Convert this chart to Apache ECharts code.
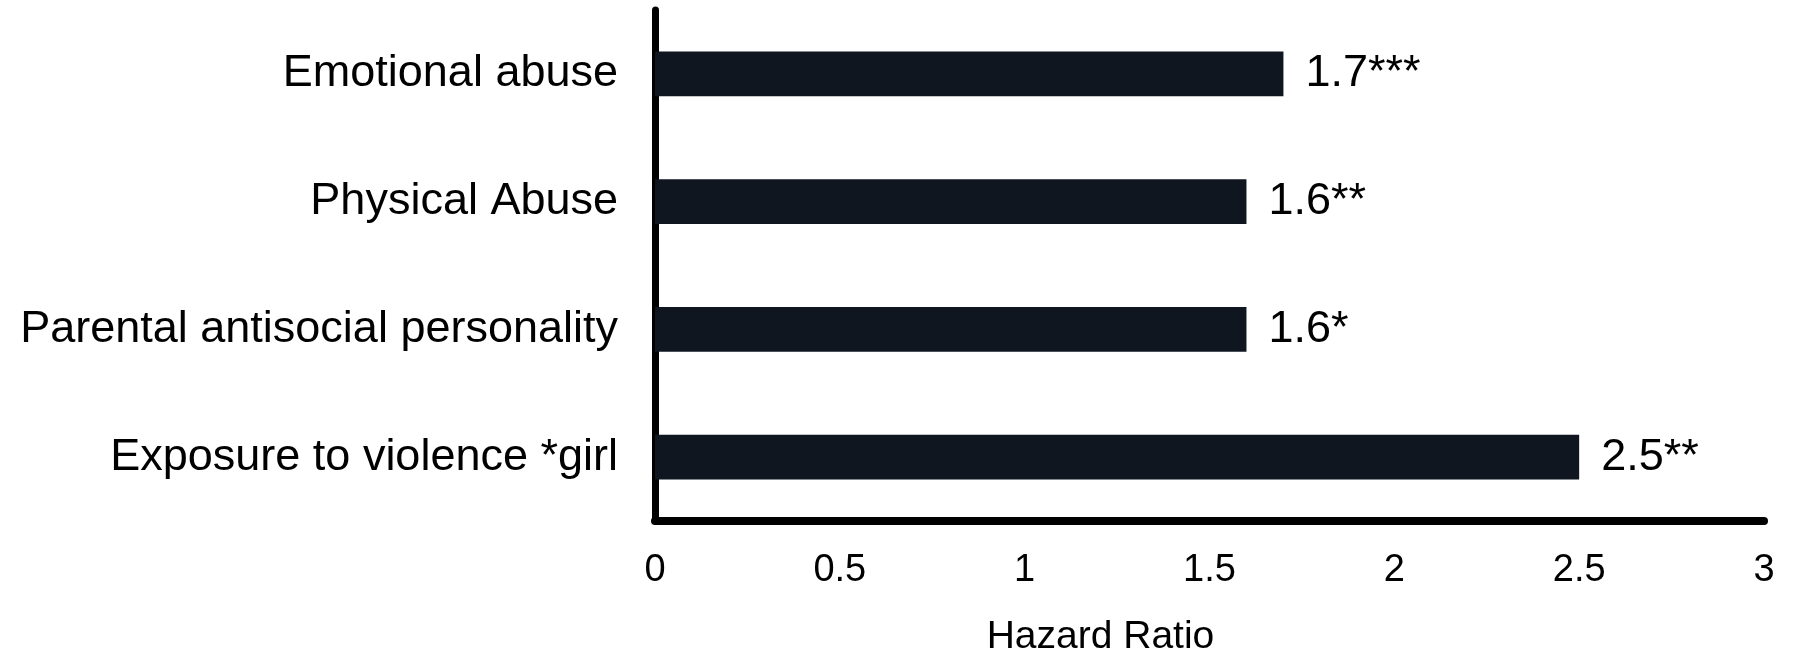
<!DOCTYPE html>
<html>
<head>
<meta charset="utf-8">
<script src="https://cdn.jsdelivr.net/npm/echarts@6/dist/echarts.min.js"></script>
<style>
html,body{margin:0;padding:0;background:#fff;}
#chart{width:1793px;height:653px;}
</style>
</head>
<body>
<div id="chart"></div>
<script>
const categories = ['Exposure to violence *girl', 'Parental antisocial personality', 'Physical Abuse', 'Emotional abuse'];
const hazardRatios = [2.5, 1.6, 1.6, 1.7];
const significance = ['**', '*', '**', '***'];
const xTicks = [0, 0.5, 1, 1.5, 2, 2.5, 3];

const chart = echarts.init(document.getElementById('chart'), null, {renderer: 'canvas'});
const font = 'Arial, "Liberation Sans", Helvetica, sans-serif';
chart.setOption({
  animation: false,
  backgroundColor: '#ffffff',
  grid: {left: 655, right: 29, top: 10, bottom: 132, containLabel: false, outerBoundsMode: 'none'},
  xAxis: {
    type: 'value',
    min: xTicks[0],
    max: xTicks[xTicks.length - 1],
    interval: 0.5,
    axisLine: {show: true, onZero: false, lineStyle: {color: '#000', width: 8}},
    axisTick: {show: false},
    splitLine: {show: false},
    axisLabel: {
      color: '#000', fontSize: 38, fontFamily: font, margin: 31,
      formatter: v => String(v)
    },
    name: 'Hazard Ratio',
    nameLocation: 'middle',
    nameGap: 97,
    nameTextStyle: {color: '#000', fontSize: 39, fontFamily: font, padding: [0, 218, 0, 0]}
  },
  yAxis: {
    type: 'category',
    data: categories,
    axisLine: {show: true, lineStyle: {color: '#000', width: 7}},
    axisTick: {show: false},
    splitLine: {show: false},
    axisLabel: {color: '#000', fontSize: 45, fontFamily: font, margin: 37}
  },
  series: [{
    type: 'bar',
    data: hazardRatios,
    barWidth: '35%',
    itemStyle: {color: '#0f1620'},
    label: {
      show: true,
      position: 'right',
      distance: 22,
      color: '#000',
      fontSize: 45,
      fontFamily: font,
      formatter: p => p.value + significance[p.dataIndex]
    }
  }]
});
</script>
</body>
</html>
